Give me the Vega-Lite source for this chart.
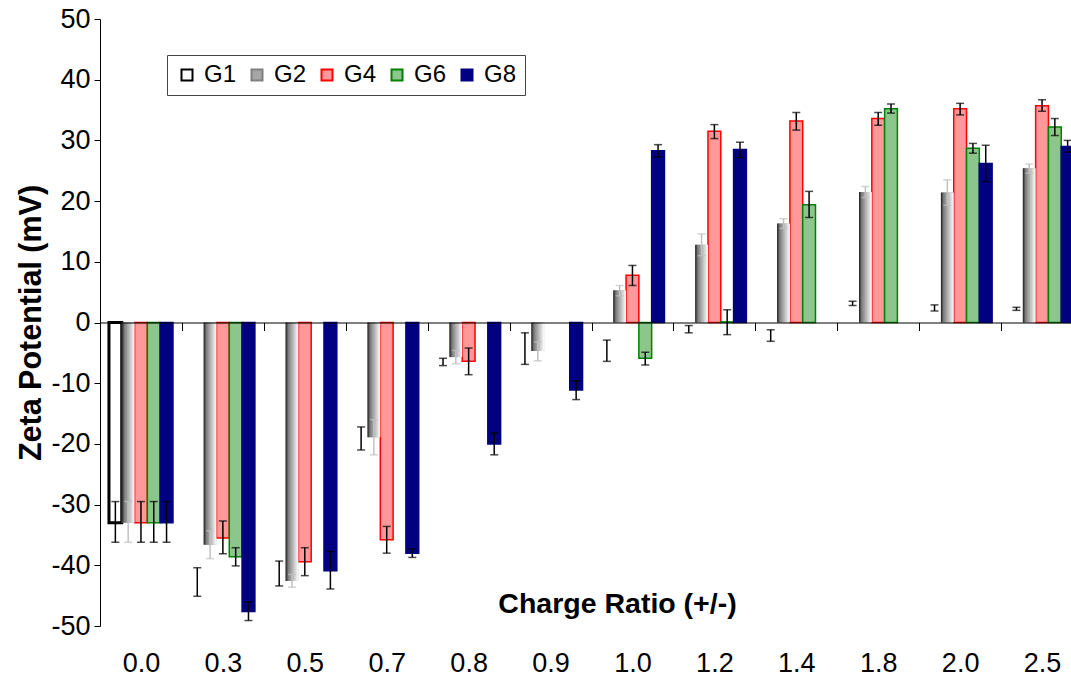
{
  "$schema": "https://vega.github.io/schema/vega-lite/v6.json",
  "width": 971,
  "height": 607,
  "autosize": {"type": "none"},
  "padding": {"left": 100, "top": 19, "right": 0, "bottom": 51},
  "background": "white",
  "config": {
    "view": {"stroke": null},
    "axis": {"labelFont": "Liberation Sans", "titleFont": "Liberation Sans", "grid": false},
    "legend": {"labelFont": "Liberation Sans"}
  },
  "data": {
    "values": [
      {"ratio": "0.0", "series": "G1", "value": -33.0, "lo": -36.2, "hi": -29.5},
      {"ratio": "0.0", "series": "G2", "value": -33.0, "lo": -36.2, "hi": -29.5},
      {"ratio": "0.0", "series": "G4", "value": -33.0, "lo": -36.2, "hi": -29.5},
      {"ratio": "0.0", "series": "G6", "value": -33.0, "lo": -36.2, "hi": -29.5},
      {"ratio": "0.0", "series": "G8", "value": -33.0, "lo": -36.2, "hi": -29.5},
      {"ratio": "0.3", "series": "G1", "value": -42.8, "lo": -45.1, "hi": -40.4},
      {"ratio": "0.3", "series": "G2", "value": -36.6, "lo": -38.9, "hi": -34.3},
      {"ratio": "0.3", "series": "G4", "value": -35.5, "lo": -38.1, "hi": -32.7},
      {"ratio": "0.3", "series": "G6", "value": -38.6, "lo": -40.1, "hi": -37.1},
      {"ratio": "0.3", "series": "G8", "value": -47.6, "lo": -49.1, "hi": -46.0},
      {"ratio": "0.5", "series": "G1", "value": -41.3, "lo": -43.4, "hi": -39.3},
      {"ratio": "0.5", "series": "G2", "value": -42.6, "lo": -43.6, "hi": -41.5},
      {"ratio": "0.5", "series": "G4", "value": -39.4, "lo": -41.7, "hi": -37.1},
      {"ratio": "0.5", "series": "G8", "value": -40.9, "lo": -43.9, "hi": -37.7},
      {"ratio": "0.7", "series": "G1", "value": -19.1, "lo": -21.0, "hi": -17.2},
      {"ratio": "0.7", "series": "G2", "value": -18.9, "lo": -21.8, "hi": -16.0},
      {"ratio": "0.7", "series": "G4", "value": -35.8, "lo": -38.0, "hi": -33.6},
      {"ratio": "0.7", "series": "G8", "value": -38.0, "lo": -38.7, "hi": -37.3},
      {"ratio": "0.8", "series": "G1", "value": -6.5, "lo": -7.1, "hi": -5.9},
      {"ratio": "0.8", "series": "G2", "value": -5.7, "lo": -6.8, "hi": -4.6},
      {"ratio": "0.8", "series": "G4", "value": -6.4, "lo": -8.6, "hi": -4.2},
      {"ratio": "0.8", "series": "G8", "value": -20.0, "lo": -21.8, "hi": -18.2},
      {"ratio": "0.9", "series": "G1", "value": -4.3, "lo": -6.9, "hi": -1.7},
      {"ratio": "0.9", "series": "G2", "value": -4.7, "lo": -6.3, "hi": -3.2},
      {"ratio": "0.9", "series": "G8", "value": -11.1, "lo": -12.7, "hi": -9.6},
      {"ratio": "1.0", "series": "G1", "value": -4.6, "lo": -6.4, "hi": -2.9},
      {"ratio": "1.0", "series": "G2", "value": 5.3, "lo": 4.4, "hi": 6.1},
      {"ratio": "1.0", "series": "G4", "value": 7.8, "lo": 6.1, "hi": 9.4},
      {"ratio": "1.0", "series": "G6", "value": -5.9, "lo": -7.0, "hi": -4.9},
      {"ratio": "1.0", "series": "G8", "value": 28.3, "lo": 27.3, "hi": 29.3},
      {"ratio": "1.2", "series": "G1", "value": -1.1, "lo": -1.7, "hi": -0.5},
      {"ratio": "1.2", "series": "G2", "value": 12.8, "lo": 11.0, "hi": 14.6},
      {"ratio": "1.2", "series": "G4", "value": 31.5, "lo": 30.3, "hi": 32.6},
      {"ratio": "1.2", "series": "G6", "value": 0.1, "lo": -2.0, "hi": 2.1},
      {"ratio": "1.2", "series": "G8", "value": 28.5, "lo": 27.2, "hi": 29.7},
      {"ratio": "1.4", "series": "G1", "value": -2.1, "lo": -3.1, "hi": -1.2},
      {"ratio": "1.4", "series": "G2", "value": 16.3, "lo": 15.5, "hi": 17.1},
      {"ratio": "1.4", "series": "G4", "value": 33.2, "lo": 31.7, "hi": 34.6},
      {"ratio": "1.4", "series": "G6", "value": 19.4, "lo": 17.3, "hi": 21.6},
      {"ratio": "1.8", "series": "G1", "value": 3.2, "lo": 2.8, "hi": 3.5},
      {"ratio": "1.8", "series": "G2", "value": 21.5, "lo": 20.6, "hi": 22.4},
      {"ratio": "1.8", "series": "G4", "value": 33.6, "lo": 32.5, "hi": 34.6},
      {"ratio": "1.8", "series": "G6", "value": 35.2, "lo": 34.5, "hi": 36.0},
      {"ratio": "2.0", "series": "G1", "value": 2.4, "lo": 1.9, "hi": 2.9},
      {"ratio": "2.0", "series": "G2", "value": 21.4, "lo": 19.3, "hi": 23.5},
      {"ratio": "2.0", "series": "G4", "value": 35.2, "lo": 34.2, "hi": 36.1},
      {"ratio": "2.0", "series": "G6", "value": 28.7, "lo": 27.9, "hi": 29.5},
      {"ratio": "2.0", "series": "G8", "value": 26.2, "lo": 23.2, "hi": 29.2},
      {"ratio": "2.5", "series": "G1", "value": 2.25, "lo": 2.0, "hi": 2.5},
      {"ratio": "2.5", "series": "G2", "value": 25.4, "lo": 24.6, "hi": 26.1},
      {"ratio": "2.5", "series": "G4", "value": 35.7, "lo": 34.8, "hi": 36.7},
      {"ratio": "2.5", "series": "G6", "value": 32.2, "lo": 30.8, "hi": 33.6},
      {"ratio": "2.5", "series": "G8", "value": 29.0, "lo": 28.1, "hi": 30.0}
    ]
  },
  "layer": [
    {
      "mark": {"type": "bar"},
      "encoding": {
        "x": {
          "field": "ratio",
          "type": "nominal",
          "scale": {"domain": ["0.0", "0.3", "0.5", "0.7", "0.8", "0.9", "1.0", "1.2", "1.4", "1.8", "2.0", "2.5"], "range": [0, 983], "paddingInner": 0, "paddingOuter": 0},
          "axis": {
            "title": "Charge Ratio (+/-)",
            "orient": "bottom",
            "offset": -303.5,
            "zindex": 1,
            "domainColor": "black",
            "domainWidth": 1,
            "tickBand": "extent",
            "tickColor": "black",
            "tickSize": 8,
            "tickWidth": 1,
            "labelAngle": 0,
            "labelFontSize": 27,
            "labelPadding": 333,
            "labelBaseline": "middle",
            "labelColor": "black",
            "titleFontSize": 28.5,
            "titleFontWeight": "bold",
            "titleColor": "black",
            "titleX": 517,
            "titleY": 281,
            "titleBaseline": "middle",
            "titleAlign": "center"
          }
        },
        "xOffset": {"field": "series", "type": "nominal", "scale": {"domain": ["G1", "G2", "G4", "G6", "G8"], "paddingInner": 0, "paddingOuter": 0.7}},
        "y": {
          "field": "value",
          "type": "quantitative",
          "scale": {"domain": [-50, 50], "nice": false, "zero": false},
          "axis": {
            "title": "Zeta Potential (mV)",
            "values": [-50, -40, -30, -20, -10, 0, 10, 20, 30, 40, 50],
            "labelExpr": "'' + datum.value",
            "domainColor": "black",
            "tickColor": "black",
            "tickSize": 6,
            "labelFontSize": 27,
            "labelPadding": 4,
            "labelColor": "black",
            "titleFontSize": 30.5,
            "titleFontWeight": "bold",
            "titleColor": "black",
            "titleX": -69,
            "titleY": 303.5,
            "titleAngle": -90,
            "titleBaseline": "middle",
            "titleAlign": "center"
          }
        },
        "fill": {
          "field": "series",
          "type": "nominal",
          "scale": {"domain": ["G1", "G2", "G4", "G6", "G8"], "range": ["#ffffff", "#a6a6a6", "#ff9999", "#8cc68c", "#000080"]},
          "legend": {
            "orient": "none",
            "legendX": 67,
            "legendY": 36,
            "direction": "horizontal",
            "title": null,
            "strokeColor": "#444444",
            "padding": 8,
            "symbolType": "square",
            "symbolSize": 121,
            "symbolStrokeWidth": 2,
            "labelFontSize": 24,
            "labelColor": "black",
            "labelOffset": 5,
            "columnPadding": 8
          }
        },
        "stroke": {
          "field": "series",
          "type": "nominal",
          "scale": {"domain": ["G1", "G2", "G4", "G6", "G8"], "range": ["#000000", "#808080", "#ff0000", "#008000", "#000080"]}
        },
        "strokeWidth": {
          "condition": [
            {"test": "datum.series === 'G1' && datum.ratio === '0.0'", "value": 3},
            {"test": "datum.series === 'G1' || datum.series === 'G2'", "value": 0}
          ],
          "value": 1.5
        }
      }
    },
    {
      "transform": [{"filter": "datum.series === 'G2'"}],
      "mark": {
        "type": "bar",
        "strokeWidth": 0,
        "fill": {
          "gradient": "linear",
          "x1": 0, "y1": 0, "x2": 1, "y2": 0,
          "stops": [
            {"offset": 0, "color": "#1a1a1a"},
            {"offset": 0.2, "color": "#7a7a7a"},
            {"offset": 1, "color": "#ffffff"}
          ]
        }
      },
      "encoding": {
        "x": {"field": "ratio", "type": "nominal"},
        "xOffset": {"field": "series", "type": "nominal"},
        "y": {"field": "value", "type": "quantitative"}
      }
    },
    {
      "mark": {"type": "rule", "strokeWidth": 1.5},
      "encoding": {
        "x": {"field": "ratio", "type": "nominal"},
        "xOffset": {"field": "series", "type": "nominal"},
        "y": {"field": "lo", "type": "quantitative"},
        "y2": {"field": "hi"},
        "color": {"condition": {"test": "datum.series === 'G2'", "value": "#c0c0c0"}, "value": "black"}
      }
    },
    {
      "mark": {"type": "tick", "thickness": 1.5, "size": 8},
      "encoding": {
        "x": {"field": "ratio", "type": "nominal"},
        "xOffset": {"field": "series", "type": "nominal"},
        "y": {"field": "lo", "type": "quantitative"},
        "color": {"condition": {"test": "datum.series === 'G2'", "value": "#c0c0c0"}, "value": "black"}
      }
    },
    {
      "mark": {"type": "tick", "thickness": 1.5, "size": 8},
      "encoding": {
        "x": {"field": "ratio", "type": "nominal"},
        "xOffset": {"field": "series", "type": "nominal"},
        "y": {"field": "hi", "type": "quantitative"},
        "color": {"condition": {"test": "datum.series === 'G2'", "value": "#c0c0c0"}, "value": "black"}
      }
    }
  ]
}
